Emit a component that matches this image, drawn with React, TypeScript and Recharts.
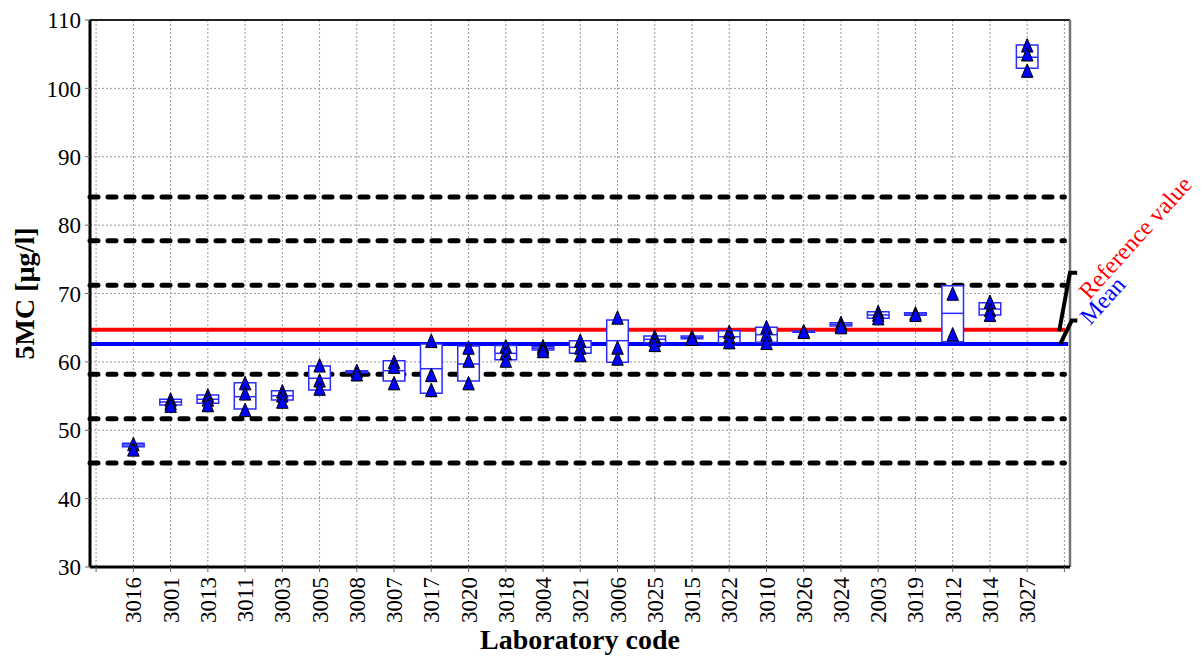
import {
  CartesianGrid,
  ComposedChart,
  ReferenceArea,
  ReferenceLine,
  Scatter,
  XAxis,
  YAxis,
} from 'recharts';

// Laboratory codes in plotted order (left to right)
const LABS = [
  '3016', '3001', '3013', '3011', '3003', '3005', '3008', '3007', '3017', '3020',
  '3018', '3004', '3021', '3006', '3025', '3015', '3022', '3010', '3026', '3024',
  '2003', '3019', '3012', '3014', '3027',
];

// Individual replicate results per lab (µg/l)
const RESULTS: number[][] = [
  [48.0, 47.2],
  [54.5, 54.0, 53.6],
  [55.1, 54.5, 53.7],
  [56.9, 55.4, 53.0],
  [55.7, 55.1, 54.2],
  [59.5, 57.3, 56.1],
  [58.7, 58.2],
  [60.0, 59.3, 56.9],
  [63.1, 58.1, 55.9],
  [62.1, 60.2, 56.9],
  [62.3, 61.3, 60.2],
  [62.3, 62.0, 61.6],
  [63.1, 62.1, 61.0],
  [66.5, 62.1, 60.5],
  [63.7, 63.2, 62.5],
  [63.7, 63.4],
  [64.4, 63.7, 62.9],
  [65.1, 64.0, 62.8],
  [64.5, 64.4],
  [65.7, 65.3, 65.1],
  [67.3, 66.9, 66.4],
  [67.1, 66.9],
  [70.0, 64.05],
  [68.8, 67.6, 66.9],
  [106.3, 105.0, 102.6],
];

// Box (mean ± sd) per lab
const BOX_LOW = [
  47.6, 53.7, 53.94, 53.11, 54.42, 55.9, 58.42, 57.2, 55.4, 57.2,
  60.3, 61.75, 61.25, 59.94, 62.8, 63.39, 62.8, 62.86, 64.33, 65.25,
  66.37, 66.81, 62.95, 66.86, 102.93,
];
const BOX_MEAN = [
  47.85, 54.13, 54.53, 54.91, 55.05, 57.6, 58.55, 58.71, 59.0, 59.69,
  61.25, 61.99, 62.13, 63.1, 63.3, 63.58, 63.68, 63.98, 64.42, 65.49,
  66.86, 67.0, 67.1, 67.73, 104.55,
];
const BOX_HIGH = [
  48.1, 54.53, 55.16, 56.95, 55.79, 59.4, 58.71, 60.17, 62.6, 62.32,
  62.4, 62.22, 63.1, 66.12, 63.78, 63.78, 64.56, 65.06, 64.51, 65.73,
  67.34, 67.19, 71.14, 68.65, 106.34,
];

const LIMITS = [84.1, 77.7, 71.2, 58.2, 51.7, 45.2];
const REFERENCE_VALUE = 64.7;
const MEAN_VALUE = 62.6;
const Y_TICKS = [30, 40, 50, 60, 70, 80, 90, 100, 110];

const X_MIN = -0.164;
const X_MAX = 26.15;
const X_TICKS = LABS.map((_, i) => i + 1);
const ALL_X_TICKS = [0, ...X_TICKS, LABS.length + 1];
const HALF = 0.29;

const FONT = '"Liberation Serif", "Times New Roman", serif';
const BOX_BLUE = '#2b2bff';

const points = RESULTS.flatMap((vals, i) => vals.map((v) => ({ x: i + 1, y: v })));

function Triangle(props: any) {
  const { cx, cy } = props;
  if (cx == null || cy == null) return null;
  const d = `M${cx},${cy - 6.7}L${cx + 5.7},${cy + 6.7}L${cx - 5.7},${cy + 6.7}Z`;
  return (
    <g>
      <path d={d} transform="translate(1,1)" fill="#000" opacity={0.2} />
      <path d={d} fill="#0000ff" stroke="#000" strokeWidth={1} strokeLinejoin="miter" />
    </g>
  );
}

function XTick(props: any) {
  const { x, y, payload } = props;
  const label = LABS[payload.value - 1];
  if (!label) return null;
  return (
    <text
      x={x}
      y={y}
      transform={`rotate(-90, ${x}, ${y})`}
      textAnchor="end"
      dy="0.35em"
      fontSize={23}
      fontFamily={FONT}
      fill="#000"
    >
      {label}
    </text>
  );
}

interface TagLayout {
  sx: number;
  sy: number;
  kx: number;
  ky: number;
  ex: number;
  tx: number;
  ty: number;
}

function lineTag(text: string, color: string, l: TagLayout) {
  return (props: any) => {
    const vb = props.viewBox;
    if (!vb) return null;
    const xe = vb.x + vb.width;
    const y = vb.y;
    const tx = xe + l.tx;
    const ty = y + l.ty;
    return (
      <g>
        <path
          d={`M${xe + l.sx},${y + l.sy}L${xe + l.kx},${y + l.ky}L${xe + l.ex},${y + l.ky}`}
          stroke="#000"
          strokeWidth={4}
          fill="none"
        />
        <text
          x={tx}
          y={ty}
          transform={`rotate(-48, ${tx}, ${ty})`}
          fill={color}
          fontSize={24}
          fontFamily={FONT}
        >
          {text}
        </text>
      </g>
    );
  };
}

export default function App() {
  return (
    <div style={{ width: 1204, height: 657 }}>
      <style>{'body{margin:0}'}</style>
      <ComposedChart
        width={1204}
        height={657}
        margin={{ top: 20, right: 134, bottom: 0, left: 0 }}
        style={{ fontFamily: FONT }}
      >
        <CartesianGrid stroke="#9a9a9a" strokeDasharray="2 2" />
        <XAxis
          type="number"
          dataKey="x"
          domain={[X_MIN, X_MAX]}
          ticks={ALL_X_TICKS}
          allowDataOverflow
          interval={0}
          height={90}
          tick={<XTick />}
          tickSize={5}
          tickMargin={5}
          tickLine={{ stroke: '#666' }}
          axisLine={{ stroke: '#000', strokeWidth: 3 }}
          label={(p: any) => {
            const vb = p.viewBox;
            return (
              <text
                x={vb.x + vb.width / 2}
                y={vb.y + 82}
                textAnchor="middle"
                fontSize={28}
                fontWeight="bold"
                fontFamily={FONT}
                fill="#000"
              >
                Laboratory code
              </text>
            );
          }}
        />
        <YAxis
          type="number"
          dataKey="y"
          domain={[30, 110]}
          ticks={Y_TICKS}
          allowDataOverflow
          width={90}
          tickSize={5}
          tickMargin={4}
          tick={{ fontSize: 23, fill: '#000', fontFamily: FONT }}
          tickLine={{ stroke: '#666' }}
          axisLine={{ stroke: '#000', strokeWidth: 3 }}
          label={(p: any) => {
            const vb = p.viewBox;
            const cx = vb.x + 34;
            const cy = vb.y + vb.height / 2;
            return (
              <text
                x={cx}
                y={cy}
                transform={`rotate(-90, ${cx}, ${cy})`}
                textAnchor="middle"
                fontSize={28}
                fontWeight="bold"
                fontFamily={FONT}
                fill="#000"
              >
                5MC [µg/l]
              </text>
            );
          }}
        />

        <ReferenceLine y={110} stroke="#222" strokeWidth={2} zIndex={50} />
        <ReferenceLine x={X_MAX} stroke="#777" strokeWidth={2.5} zIndex={50} />

        {LIMITS.map((v) => (
          <ReferenceLine
            key={`lim-${v}`}
            segment={[
              { x: X_MIN, y: v },
              { x: LABS.length + 1, y: v },
            ]}
            stroke="#000"
            strokeWidth={5}
            strokeDasharray="8 10"
            strokeLinecap="round"
            zIndex={100}
          />
        ))}

        <ReferenceLine
          segment={[
            { x: X_MIN, y: REFERENCE_VALUE },
            { x: 26.02, y: REFERENCE_VALUE },
          ]}
          stroke="#ff0000"
          strokeWidth={4}
          zIndex={150}
          label={lineTag('Reference value', '#ff0000', {
            sx: -6, sy: 1.5, kx: 4.8, ky: -57, ex: 12, tx: 24, ty: -29,
          })}
        />
        <ReferenceLine
          segment={[
            { x: X_MIN, y: MEAN_VALUE },
            { x: 26.1, y: MEAN_VALUE },
          ]}
          stroke="#0000ff"
          strokeWidth={4}
          zIndex={150}
          label={lineTag('Mean', '#0000ff', {
            sx: -8, sy: 0, kx: 3.6, ky: -23.5, ex: 9.2, tx: 22, ty: -18,
          })}
        />

        {LABS.map((lab, i) => (
          <ReferenceArea
            key={`box-${lab}`}
            x1={i + 1 - HALF}
            x2={i + 1 + HALF}
            y1={BOX_LOW[i]}
            y2={BOX_HIGH[i]}
            fill="#fff"
            fillOpacity={1}
            stroke={BOX_BLUE}
            strokeWidth={1.5}
            ifOverflow="visible"
            zIndex={200}
          />
        ))}
        {LABS.map((lab, i) => (
          <ReferenceLine
            key={`mean-${lab}`}
            segment={[
              { x: i + 1 - HALF, y: BOX_MEAN[i] },
              { x: i + 1 + HALF, y: BOX_MEAN[i] },
            ]}
            stroke={BOX_BLUE}
            strokeWidth={1.5}
            zIndex={250}
          />
        ))}

        <Scatter
          data={points}
          dataKey="y"
          shape={<Triangle />}
          isAnimationActive={false}
          zIndex={600}
        />
      </ComposedChart>
    </div>
  );
}
